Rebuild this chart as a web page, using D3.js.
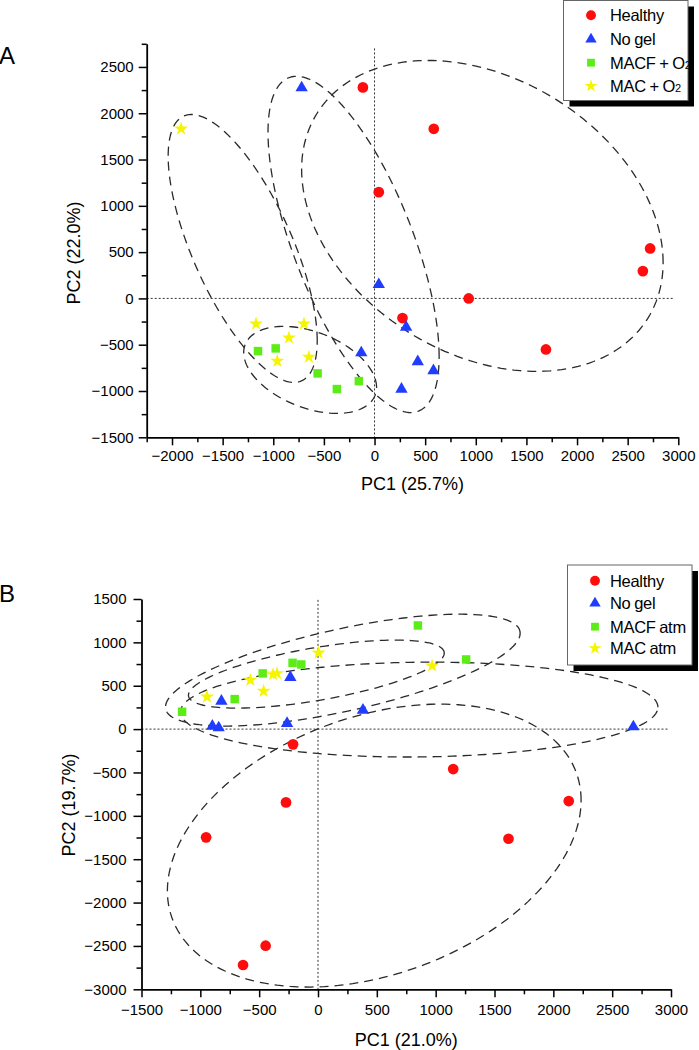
<!DOCTYPE html>
<html><head><meta charset="utf-8">
<script src="https://cdn.jsdelivr.net/npm/d3@7"></script>
<style>
body{margin:0;background:#fff}
svg{display:block}
text{font-family:"Liberation Sans",Arial,sans-serif;fill:#000}
</style>
</head><body>
<svg id="c" width="699" height="1050"></svg>
<script>
// ---------- DATA ----------
const groupNames = ["Healthy", "No gel", "MACF", "MAC"];
const legendLabelsA = [["Healthy",""], ["No gel",""], ["MACF + O","2"], ["MAC + O","2"]];
const legendLabelsB = [["Healthy",""], ["No gel",""], ["MACF atm",""], ["MAC atm",""]];

// Panel A points [PC1, PC2]
const healthyA = [[-115,2279],[585,1832],[42,1148],[2722,540],[2650,295],[930,0],[276,-212],[1693,-551]];
const noGelA   = [[-720,2275],[42,150],[312,-310],[-131,-587],[427,-684],[582,-781],[266,-979]];
const macfA    = [[-1151,-569],[-976,-540],[-562,-810],[-372,-979],[-155,-893]];
const macA     = [[-1910,1832],[-1170,-274],[-697,-274],[-845,-425],[-648,-633],[-960,-677]];

// Panel B points [PC1, PC2]
const healthyB = [[-212,-176],[-272,-845],[-951,-1248],[-445,-2497],[-637,-2720],[1149,-461],[2131,-830],[1619,-1264]];
const noGelB   = [[-821,323],[-898,35],[-844,15],[-235,596],[-263,66],[382,219],[2680,27]];
const macfB    = [[-1155,200],[-708,346],[-470,642],[-216,764],[-142,745],[849,1195],[1259,803]];
const macB     = [[-943,372],[-575,565],[-462,438],[-382,630],[-348,642],[5,879],[970,730]];

// Confidence ellipses [centre PC1, centre PC2, half-extent PC1, half-extent PC2, correlation]
const ellipsesA = [[1065,891,1785,1679,-0.30],[-207,583,845,1816,-0.667],[-1302,540,736,1447,-0.688],[-636,-772,656,470,-0.40]];
const ellipsesB = [[478,-1343,1758,1631,0.32],[860,225,2029,547,0.05],[211,680,1507,645,0.66],[-14,634,1087,392,0.62]];

// Axes
const xDomainA = [-2250, 3000], yDomainA = [-1500, 2750];
const xDomainB = [-1500, 3000], yDomainB = [-3000, 1500];
const xTicksA = [-2000,-1500,-1000,-500,0,500,1000,1500,2000,2500,3000];
const yTicksA = [-1500,-1000,-500,0,500,1000,1500,2000,2500];
const xTicksB = [-1500,-1000,-500,0,500,1000,1500,2000,2500,3000];
const yTicksB = [-3000,-2500,-2000,-1500,-1000,-500,0,500,1000,1500];
const xTitleA = "PC1 (25.7%)", yTitleA = "PC2 (22.0%)";
const xTitleB = "PC1 (21.0%)", yTitleB = "PC2 (19.7%)";

// ---------- STYLE ----------
const colors = {"Healthy":"#ff0d0d","No gel":"#1f3cff","MACF":"#5ded16","MAC":"#f5f500"};
const symbols = {"Healthy":d3.symbolCircle,"No gel":d3.symbolTriangle,"MACF":d3.symbolSquare,"MAC":d3.symbolStar};
const sizes = {"Healthy":90,"No gel":66,"MACF":72,"MAC":60};

const svg = d3.select("#c");

function drawPanel(o){
  const g = svg.append("g");
  const x = d3.scaleLinear().domain(o.xd).range(o.xr);
  const y = d3.scaleLinear().domain(o.yd).range(o.yr);

  // ellipses
  const line = d3.line().x(d=>x(d[0])).y(d=>y(d[1])).curve(d3.curveLinearClosed);
  o.ellipses.forEach(e=>{
    const [cx,cy,sx,sy,r]=e;
    const pts = d3.range(0,360,2).map(a=>{
      const t=a*Math.PI/180;
      return [cx+sx*Math.cos(t), cy+sy*(r*Math.cos(t)+Math.sqrt(1-r*r)*Math.sin(t))];
    });
    g.append("path").attr("d",line(pts)).attr("fill","none")
      .attr("stroke","#2a2a2a").attr("stroke-width",1.3).attr("stroke-dasharray","9,6");
  });

  // zero reference lines
  g.append("line").attr("x1",x(0)).attr("x2",x(0)).attr("y1",y(o.vTop)).attr("y2",y(o.yd[0]))
    .attr("stroke","#333").attr("stroke-width",1).attr("stroke-dasharray","2,2");
  g.append("line").attr("x1",x(o.xd[0])).attr("x2",x(o.hRight)).attr("y1",y(0)).attr("y2",y(0))
    .attr("stroke","#333").attr("stroke-width",1).attr("stroke-dasharray","2,2");

  // axes
  const fmt = d3.format("d");
  const minorX = d3.range(o.xd[0], o.xd[1]+1, 250).filter(v=>!o.xt.includes(v));
  const minorY = d3.range(o.yd[0], o.yd[1]+1, 250).filter(v=>!o.yt.includes(v));
  const yb = o.yr[0], xl = o.xr[0];

  g.append("g").attr("transform",`translate(0,${yb})`)
    .call(d3.axisBottom(x).tickValues(o.xt).tickFormat(fmt).tickSize(8).tickPadding(o.xpad).tickSizeOuter(0));
  g.append("g").attr("transform",`translate(0,${yb})`)
    .call(d3.axisBottom(x).tickValues(minorX).tickFormat("").tickSize(5).tickSizeOuter(0))
    .select(".domain").remove();
  g.append("g").attr("transform",`translate(${xl},0)`)
    .call(d3.axisLeft(y).tickValues(o.yt).tickFormat(fmt).tickSize(8).tickPadding(o.ypad).tickSizeOuter(0));
  g.append("g").attr("transform",`translate(${xl},0)`)
    .call(d3.axisLeft(y).tickValues(minorY).tickFormat("").tickSize(5).tickSizeOuter(0))
    .select(".domain").remove();
  g.selectAll(".domain").attr("stroke","#000").attr("stroke-width",1.8);
  g.selectAll(".tick line").attr("stroke","#000").attr("stroke-width",1.5);
  g.selectAll(".tick text").attr("font-size",15).attr("font-family","Liberation Sans, Arial, sans-serif").attr("fill","#000");

  // titles
  g.append("text").attr("x",(o.xr[0]+o.xr[1])/2).attr("y",o.xTitleY).attr("text-anchor","middle")
    .attr("font-size",18).text(o.xTitle);
  g.append("text").attr("transform",`translate(${o.yTitleX},${o.yTitleC}) rotate(-90)`)
    .attr("text-anchor","middle").attr("font-size",18).text(o.yTitle);
  g.append("text").attr("x",-1).attr("y",o.letterY).attr("font-size",24).text(o.letter);

  // points
  o.series.forEach((s,i)=>{
    const name=groupNames[i];
    g.append("g").selectAll("path").data(s).join("path")
      .attr("transform",d=>`translate(${x(d[0])},${y(d[1])})`)
      .attr("d",d3.symbol(symbols[name],sizes[name]))
      .attr("fill",colors[name]);
  });

  // legend
  const L=o.legend;
  const lg=g.append("g");
  lg.append("rect").attr("x",L.x+6).attr("y",L.y+6).attr("width",L.w).attr("height",L.h).attr("fill","#000");
  lg.append("rect").attr("x",L.x).attr("y",L.y).attr("width",L.w).attr("height",L.h)
    .attr("fill","#fff").attr("stroke","#666").attr("stroke-width",1);
  o.legendLabels.forEach((lab,i)=>{
    const name=groupNames[i];
    const cy=L.rowY[i];
    lg.append("path").attr("transform",`translate(${L.mx},${cy})`)
      .attr("d",d3.symbol(symbols[name],sizes[name]*0.85)).attr("fill",colors[name]);
    const t=lg.append("text").attr("x",L.tx).attr("y",cy+6).attr("font-size",16.5)
      .attr("letter-spacing",-0.3).attr("word-spacing",-0.6);
    t.append("tspan").text(lab[0]);
    if(lab[1]) t.append("tspan").attr("font-size",11).text(lab[1]);
  });
}

drawPanel({
  xd:xDomainA, yd:yDomainA, xr:[146.7,678.3], yr:[437.3,43.8],
  xt:xTicksA, yt:yTicksA, xpad:5, ypad:5, vTop:2700, hRight:2960,
  ellipses:ellipsesA, series:[healthyA,noGelA,macfA,macA],
  xTitle:xTitleA, yTitle:yTitleA, xTitleY:490, yTitleX:80, yTitleC:253,
  letter:"A", letterY:64,
  legendLabels:legendLabelsA,
  legend:{x:563.5,y:0.5,w:124.5,h:100,mx:591,tx:610,rowY:[15.3,39.3,62.7,86]}
});
drawPanel({
  xd:xDomainB, yd:yDomainB, xr:[141.5,671], yr:[989.3,599],
  xt:xTicksB, yt:yTicksB, xpad:7, ypad:7, vTop:1490, hRight:2970,
  ellipses:ellipsesB, series:[healthyB,noGelB,macfB,macB],
  xTitle:xTitleB, yTitle:yTitleB, xTitleY:1046, yTitleX:75, yTitleC:805,
  letter:"B", letterY:602,
  legendLabels:legendLabelsB,
  legend:{x:567.5,y:565,w:124.5,h:100,mx:595,tx:610,rowY:[580.7,603.3,626.7,648.3]}
});
</script>
</body></html>
